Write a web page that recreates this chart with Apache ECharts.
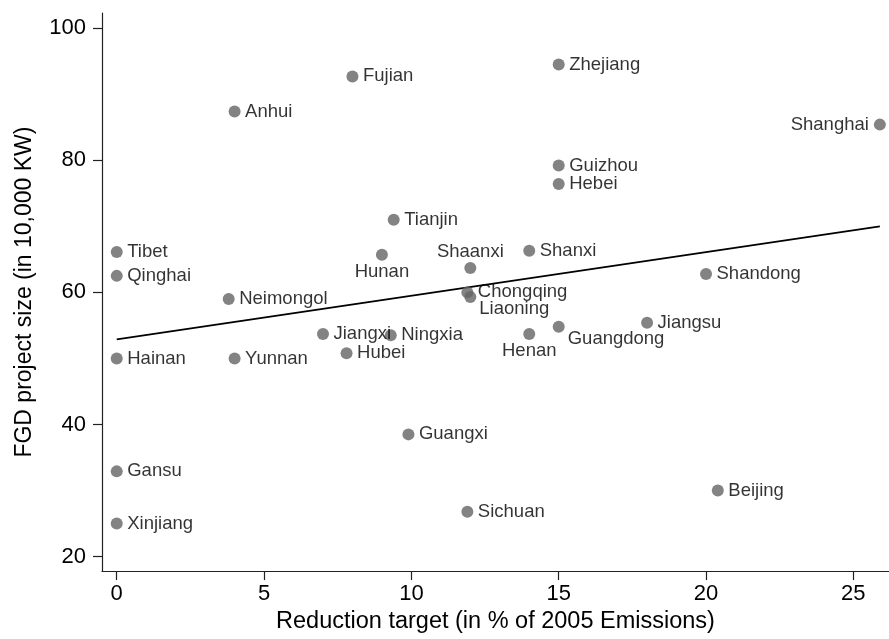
<!DOCTYPE html>
<html><head><meta charset="utf-8">
<script src="https://cdn.jsdelivr.net/npm/echarts@6/dist/echarts.min.js"></script>
<style>html,body{margin:0;padding:0;background:#fff}#c{width:889px;height:639px}</style>
</head><body><div id="c"></div>
<script>
const provinces = ["Anhui","Beijing","Chongqing","Fujian","Gansu","Guangdong","Guangxi","Guizhou","Hainan","Hebei","Henan","Hubei","Hunan","Jiangsu","Jiangxi","Liaoning","Neimongol","Ningxia","Qinghai","Shaanxi","Shandong","Shanghai","Shanxi","Sichuan","Tianjin","Tibet","Xinjiang","Yunnan","Zhejiang"];
const reductionTarget = [4.0,20.4,11.9,8.0,0,15.0,9.9,15.0,0,15.0,14.0,7.8,9.0,18.0,7.0,12.0,3.8,9.3,0,12.0,20.0,25.9,14.0,11.9,9.4,0,0,4.0,15.0];
const fgdSize = [87.4,30.0,60.0,92.7,32.9,54.8,38.5,79.2,50.0,76.4,53.7,50.8,65.7,55.4,53.7,59.3,59.0,53.5,62.5,63.7,62.8,85.4,66.3,26.8,71.0,66.1,25.0,50.0,94.5];
const xTicks = [0,5,10,15,20,25];
const yTicks = [20,40,60,80,100];
const fitX = [0, 25.9];
const fitY = [52.9, 70.0];
const xTitle = "Reduction target (in % of 2005 Emissions)";
const yTitle = "FGD project size (in 10,000 KW)";

// label placement (clock positions, as in the original)
const clock = {Hunan:6, Henan:6, Shaanxi:12, Shanghai:9, Liaoning:4, Guangdong:4};
const R = 6;
function labelFor(name){
  const c = clock[name] || 3;
  let dx=10.5, dy=0, align='left';
  if (c===9){dx=-11; align='right';}
  else if (c===6){dx=0; dy=17; align='center';}
  else if (c===12){dx=0; dy=-16; align='center';}
  else if (c===4){dx=9; dy=12; align='left';}
  return {show:true, position:[R+dx, R+dy], align:align, verticalAlign:'middle',
          formatter:name, fontSize:18.5, color:'#000', fontFamily:'Liberation Sans, Arial, sans-serif'};
}
const pts = provinces.map((n,i)=>({value:[reductionTarget[i], fgdSize[i]], name:n, label:labelFor(n)}));
const fitData = fitX.map((x,i)=>[x, fitY[i]]);

const font = 'Liberation Sans, Arial, sans-serif';
const chart = echarts.init(document.getElementById('c'), null, {renderer:'canvas'});
chart.setOption({
  animation:false,
  backgroundColor:'#fff',
  grid:{left:102, right:0, top:13, bottom:63.3, containLabel:false},
  xAxis:{type:'value', min:-0.5, max:26.21,
    name:xTitle, nameLocation:'middle', nameGap:37,
    nameTextStyle:{fontSize:23.5, color:'#000', fontFamily:font},
    axisLine:{show:true, onZero:false, lineStyle:{color:'#222', width:1.2}},
    axisTick:{show:true, inside:false, length:9, customValues:xTicks, lineStyle:{color:'#222', width:1.2}},
    axisLabel:{show:true, margin:12, customValues:xTicks, fontSize:22, color:'#000', fontFamily:font},
    splitLine:{show:false}},
  yAxis:{type:'value', min:17.8, max:102.3,
    name:yTitle, nameLocation:'middle', nameGap:66,
    nameTextStyle:{fontSize:23, color:'#000', fontFamily:font},
    axisLine:{show:true, onZero:false, lineStyle:{color:'#222', width:1.2}},
    axisTick:{show:true, inside:false, length:9, customValues:yTicks, lineStyle:{color:'#222', width:1.2}},
    axisLabel:{show:true, margin:16, customValues:yTicks, fontSize:22, color:'#000', fontFamily:font},
    splitLine:{show:false}},
  series:[
    {type:'line', data:fitData, symbol:'none', silent:true, z:1,
     lineStyle:{color:'#000', width:1.8}},
    {type:'scatter', data:pts, symbol:'circle', symbolSize:12, z:2,
     itemStyle:{color:'#646464'}, emphasis:{disabled:true}}
  ]
});
</script></body></html>
